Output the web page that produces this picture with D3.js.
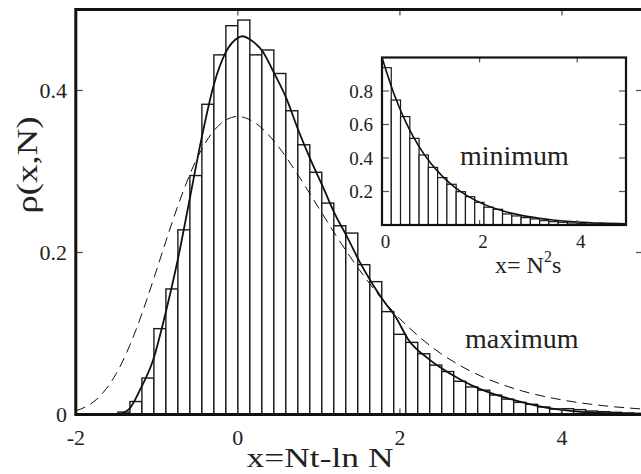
<!DOCTYPE html>
<html><head><meta charset="utf-8">
<script src="https://cdn.jsdelivr.net/npm/d3@7"></script>
<style>
html,body{margin:0;padding:0;background:#fff;}
text{font-family:"Liberation Serif","Times New Roman",serif;fill:#222;}
</style></head>
<body><svg id="c" width="641" height="474"></svg>
<script>
// ---------- DATA ----------
// main histogram (maximum): bins of width maxBinWidth starting at maxBinStart
const maxBinStart = -1.48;
const maxBinWidth = 0.148;
const maxHeights = [0.003,0.016,0.045,0.106,0.155,0.228,0.295,0.383,0.444,0.480,
  0.487,0.444,0.450,0.421,0.375,0.333,0.299,0.261,0.233,0.224,
  0.185,0.164,0.127,0.099,0.089,0.075,0.061,0.053,0.041,0.034,
  0.030,0.024,0.019,0.015,0.0126,0.0093,0.0068,0.0072,0.006,0.0043,
  0.0035,0.0027,0.002,0.0015];
// solid curve (finite N)
const solidX = [-2,-1.5,-1.35,-1.2,-1.05,-0.9,-0.75,-0.6,-0.45,-0.3,-0.15,0,0.06,0.15,0.3,0.45,0.6,0.75,0.9,1.05,1.2,1.35,1.5,1.65,1.8,1.95,2.1,2.35,2.5,2.75,3.0,3.4,3.8,4.2,4.6,5.0];
const solidY = [0,0.000,0.006,0.032,0.066,0.122,0.187,0.263,0.340,0.406,0.447,0.465,0.467,0.463,0.449,0.421,0.390,0.350,0.314,0.281,0.247,0.219,0.189,0.163,0.140,0.120,0.093,0.069,0.058,0.043,0.031,0.018,0.0085,0.0036,0.0015,0.0005];
// dashed curve (limit)
const dashX = [-2,-1.875,-1.75,-1.625,-1.5,-1.375,-1.25,-1.125,-1,-0.875,-0.75,-0.5,-0.25,0,0.25,0.5,0.75,1,1.25,1.5,1.75,2,2.25,2.5,2.75,3,3.5,4,4.5,5];
const dashY = [0.0046,0.0096,0.0182,0.0317,0.0507,0.0758,0.1064,0.1416,0.1794,0.2179,0.2549,0.3170,0.3555,0.3679,0.3574,0.3307,0.2945,0.2546,0.2151,0.1785,0.1461,0.1182,0.0949,0.0756,0.0600,0.0474,0.0293,0.0180,0.0110,0.0067];
const mainXTicks = [-2,0,2,4];
const mainYTicks = [0,0.2,0.4];
const mainYTickLabels = ["0","0.2","0.4"];

// inset histogram (minimum)
const minBinStart = 0;
const minBinWidth = 0.19;
const minHeights = [0.939,0.746,0.647,0.517,0.418,0.344,0.283,0.243,0.199,0.169,
  0.135,0.106,0.094,0.066,0.054,0.044,0.036,0.026,0.020,0.016,
  0.012,0.008,0.006,0.004,0.003,0.002];
const expX = [0,0.25,0.5,0.75,1,1.25,1.5,1.75,2,2.5,3,3.5,4,4.5,5];
const expY = [1.0,0.779,0.607,0.472,0.368,0.287,0.223,0.174,0.135,0.082,0.050,0.030,0.018,0.011,0.007];
const insetXTicks = [0,2,4];
const insetYTicks = [0.2,0.4,0.6,0.8];
const insetYTickLabels = ["0.2","0.4","0.6","0.8"];

// ---------- DRAW ----------
const svg = d3.select("#c");
const x = d3.scaleLinear().domain([-2,5]).range([75.8,643]);
const y = d3.scaleLinear().domain([0,0.5]).range([414.5,9.5]);

svg.append("defs").append("clipPath").attr("id","mclip")
  .append("rect").attr("x",x(-2)).attr("y",y(0.5)).attr("width",x(5)-x(-2)).attr("height",y(0)-y(0.5));

const gm = svg.append("g").attr("clip-path","url(#mclip)");
gm.selectAll("rect.bar").data(maxHeights).join("rect").attr("class","bar")
  .attr("x",(d,i)=>x(maxBinStart+i*maxBinWidth))
  .attr("width",(d,i)=>x(maxBinStart+(i+1)*maxBinWidth)-x(maxBinStart+i*maxBinWidth))
  .attr("y",d=>y(d)).attr("height",d=>y(0)-y(d))
  .attr("fill","#fff").attr("stroke","#1a1a1a").attr("stroke-width",1.4);

const lineMain = d3.line().x(d=>x(d[0])).y(d=>y(d[1])).curve(d3.curveMonotoneX);
gm.append("path").datum(dashX.map((v,i)=>[v,dashY[i]])).attr("d",lineMain)
  .attr("fill","none").attr("stroke","#111").attr("stroke-width",1).attr("stroke-dasharray","10,6");
gm.append("path").datum(solidX.map((v,i)=>[v,solidY[i]])).attr("d",lineMain)
  .attr("fill","none").attr("stroke","#111").attr("stroke-width",1.8);

// main ticks
const tk = svg.append("g").attr("stroke","#555").attr("stroke-width",1.3);
mainXTicks.forEach(t=>{
  tk.append("line").attr("x1",x(t)).attr("x2",x(t)).attr("y1",y(0)).attr("y2",y(0)-6);
  tk.append("line").attr("x1",x(t)).attr("x2",x(t)).attr("y1",y(0.5)).attr("y2",y(0.5)+6);
});
mainYTicks.forEach(t=>{
  tk.append("line").attr("x1",x(-2)).attr("x2",x(-2)+7).attr("y1",y(t)).attr("y2",y(t));
  tk.append("line").attr("x1",x(5)).attr("x2",x(5)-7).attr("y1",y(t)).attr("y2",y(t));
});
// main frame
svg.append("rect").attr("x",x(-2)).attr("y",y(0.5)).attr("width",x(5)-x(-2)).attr("height",y(0)-y(0.5))
  .attr("fill","none").attr("stroke","#111").attr("stroke-width",3);

// main tick labels
svg.selectAll("text.xl").data(mainXTicks).join("text").attr("class","xl")
  .attr("x",d=>x(d)).attr("y",445).attr("text-anchor","middle").attr("font-size",22)
  .text(d=>d===-2?"-2":String(d));
svg.selectAll("text.yl").data(mainYTicks).join("text").attr("class","yl")
  .attr("x",67).attr("y",d=>y(d)+7).attr("text-anchor","end").attr("font-size",22)
  .text((d,i)=>mainYTickLabels[i]);

// axis titles
svg.append("text").attr("x",320).attr("y",467).attr("text-anchor","middle").attr("font-size",27)
  .attr("textLength",147).attr("lengthAdjust","spacingAndGlyphs").text("x=Nt-ln N");
svg.append("text").attr("transform","translate(37,165) rotate(-90)").attr("text-anchor","middle")
  .attr("font-size",30).attr("textLength",97).attr("lengthAdjust","spacingAndGlyphs").text("ρ(x,N)");
svg.append("text").attr("x",465).attr("y",348).attr("font-size",28).text("maximum");

// ---------- INSET ----------
const ix = d3.scaleLinear().domain([0,5]).range([382,626]);
const iy = d3.scaleLinear().domain([0,1]).range([225,57.5]);
svg.append("rect").attr("x",ix(0)).attr("y",iy(1)).attr("width",ix(5)-ix(0)).attr("height",iy(0)-iy(1)).attr("fill","#fff");
svg.select("defs").append("clipPath").attr("id","iclip")
  .append("rect").attr("x",ix(0)).attr("y",iy(1)).attr("width",ix(5)-ix(0)).attr("height",iy(0)-iy(1));
const gi = svg.append("g").attr("clip-path","url(#iclip)");
gi.selectAll("rect").data(minHeights).join("rect")
  .attr("x",(d,i)=>ix(minBinStart+i*minBinWidth))
  .attr("width",(d,i)=>ix(minBinStart+(i+1)*minBinWidth)-ix(minBinStart+i*minBinWidth))
  .attr("y",d=>iy(d)).attr("height",d=>iy(0)-iy(d))
  .attr("fill","#fff").attr("stroke","#1a1a1a").attr("stroke-width",1.2);
const lineIn = d3.line().x(d=>ix(d[0])).y(d=>iy(d[1])).curve(d3.curveMonotoneX);
gi.append("path").datum(expX.map((v,i)=>[v,expY[i]])).attr("d",lineIn)
  .attr("fill","none").attr("stroke","#111").attr("stroke-width",1.6);

const itk = svg.append("g").attr("stroke","#555").attr("stroke-width",1.2);
insetXTicks.filter(t=>t>0).forEach(t=>{
  itk.append("line").attr("x1",ix(t)).attr("x2",ix(t)).attr("y1",iy(0)).attr("y2",iy(0)-5);
  itk.append("line").attr("x1",ix(t)).attr("x2",ix(t)).attr("y1",iy(1)).attr("y2",iy(1)+5);
});
insetYTicks.forEach(t=>{
  itk.append("line").attr("x1",ix(0)).attr("x2",ix(0)+7).attr("y1",iy(t)).attr("y2",iy(t));
  itk.append("line").attr("x1",ix(5)).attr("x2",ix(5)-7).attr("y1",iy(t)).attr("y2",iy(t));
});
svg.append("rect").attr("x",ix(0)).attr("y",iy(1)).attr("width",ix(5)-ix(0)).attr("height",iy(0)-iy(1))
  .attr("fill","none").attr("stroke","#111").attr("stroke-width",2.2);

svg.selectAll("text.ixl").data(insetXTicks).join("text").attr("class","ixl")
  .attr("x",d=>ix(d)+3.5).attr("y",248).attr("text-anchor","middle").attr("font-size",19).text(d=>d);
svg.selectAll("text.iyl").data(insetYTicks).join("text").attr("class","iyl")
  .attr("x",373).attr("y",d=>iy(d)+6.5).attr("text-anchor","end").attr("font-size",19)
  .text((d,i)=>insetYTickLabels[i]);
const ttl = svg.append("text").attr("x",495).attr("y",273).attr("font-size",24);
ttl.append("tspan").text("x= N");
ttl.append("tspan").attr("font-size",16).attr("dy",-11).text("2");
ttl.append("tspan").attr("dy",11).text("s");
svg.append("text").attr("x",460).attr("y",165).attr("font-size",28).text("minimum");
</script></body></html>
